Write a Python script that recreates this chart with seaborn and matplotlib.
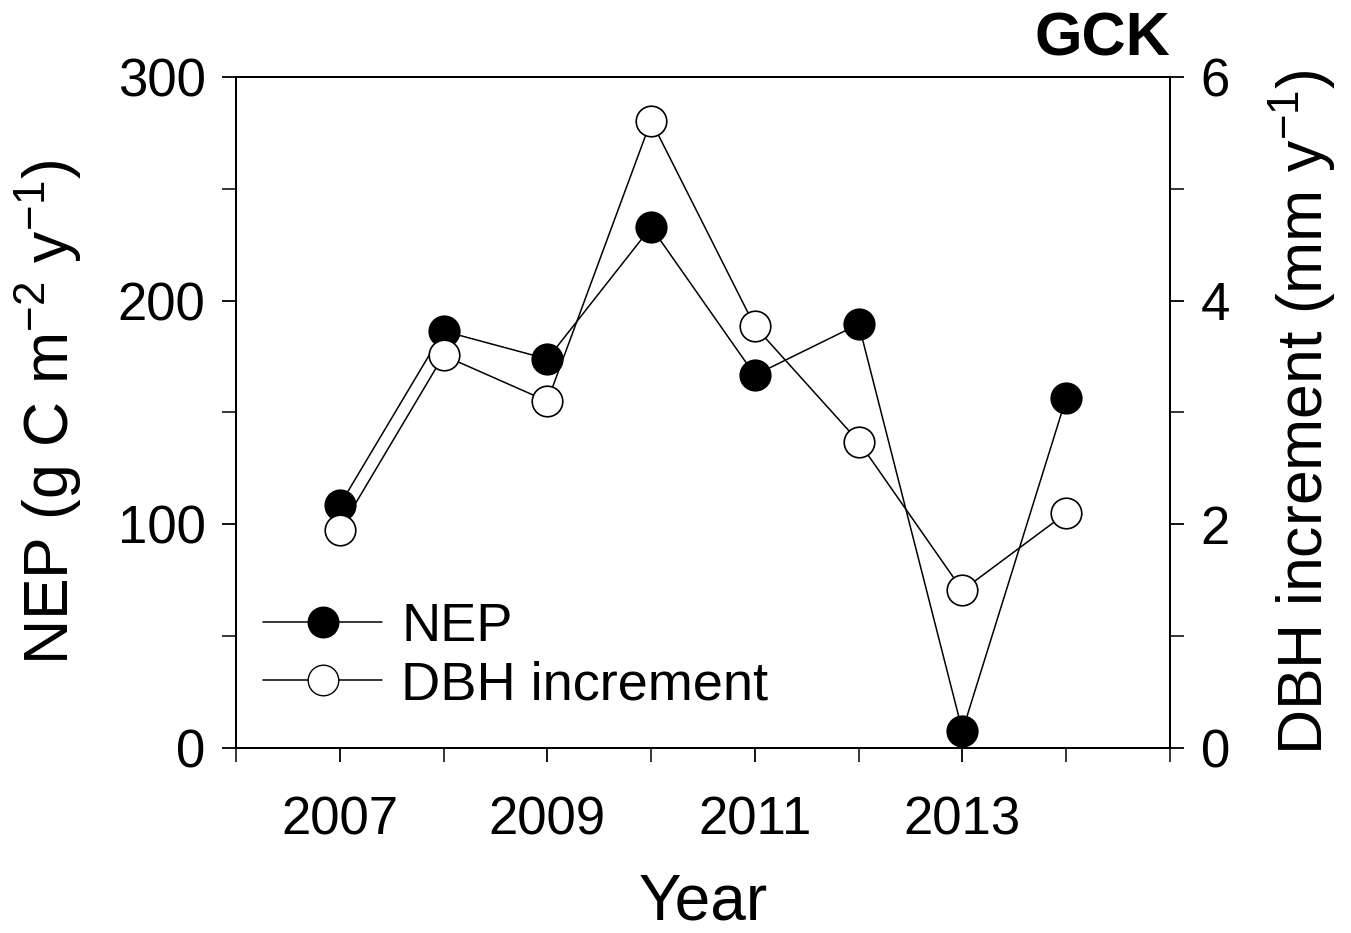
import pandas as pd
import matplotlib
matplotlib.use("Agg")
import matplotlib.pyplot as plt
from matplotlib.ticker import MultipleLocator
from matplotlib.lines import Line2D
import seaborn as sns

# data
years = [2007, 2008, 2009, 2010, 2011, 2012, 2013, 2014]
nep = [108.6, 186.4, 173.9, 232.9, 166.7, 189.5, 7.6, 156.5]
dbh_increment = [1.95, 3.51, 3.10, 5.61, 3.77, 2.74, 1.41, 2.10]
site = "GCK"

df = pd.DataFrame({"year": years, "nep": nep, "dbh": dbh_increment})

sns.set_theme(style="white")
plt.rcParams["font.family"] = ["Liberation Sans", "DejaVu Sans"]
plt.rcParams["mathtext.fontset"] = "custom"
plt.rcParams["mathtext.rm"] = "Liberation Sans"
plt.rcParams["text.color"] = "black"
plt.rcParams["axes.labelcolor"] = "black"

fig = plt.figure(figsize=(13.51, 9.33), dpi=100)
ax = fig.add_axes([0.1747, 0.1983, 0.6913, 0.7192])
ax2 = ax.twinx()

ms = 22
sns.lineplot(data=df, x="year", y="nep", ax=ax, color="black", linewidth=1.1,
             marker="o", markersize=ms, markerfacecolor="black",
             markeredgecolor="black", markeredgewidth=1.2, zorder=3)
sns.lineplot(data=df, x="year", y="dbh", ax=ax2, color="black", linewidth=1.1,
             marker="o", markersize=ms, markerfacecolor="white",
             markeredgecolor="black", markeredgewidth=1.2, zorder=3)

ax.set_xlim(2006, 2015)
ax.set_ylim(0, 300)
ax2.set_ylim(0, 6)

ax.set_xticks([2007, 2009, 2011, 2013])
ax.xaxis.set_minor_locator(MultipleLocator(1))
ax.yaxis.set_major_locator(MultipleLocator(100))
ax.yaxis.set_minor_locator(MultipleLocator(50))
ax2.yaxis.set_major_locator(MultipleLocator(2))
ax2.yaxis.set_minor_locator(MultipleLocator(1))

for a in (ax, ax2):
    for s in a.spines.values():
        s.set_color("black")
        s.set_linewidth(1.4)
    a.tick_params(which="major", direction="out", length=10, width=1.3,
                  labelsize=38, colors="black", pad=12)
    a.tick_params(which="minor", direction="out", length=10, width=1.3)
ax.tick_params(axis="x", which="both", bottom=True, top=False)
ax.tick_params(axis="y", which="both", left=True, right=False)
ax2.tick_params(axis="y", which="both", right=True, left=False)
ax.tick_params(axis="x", pad=24)

ax.set_xlabel("Year", fontsize=46, labelpad=20)
ax.set_ylabel(r"NEP (g C m$^{-2}$ y$^{-1}$)", fontsize=45, labelpad=24)
ax2.set_ylabel(r"DBH increment (mm y$^{-1}$)", fontsize=45, labelpad=26)

ax.text(1.0, 1.012, site, transform=ax.transAxes, ha="right", va="bottom",
        fontsize=44, fontweight="bold")

handles = [
    Line2D([], [], color="black", linewidth=1.1, marker="o", markersize=ms,
           markerfacecolor="black", markeredgecolor="black"),
    Line2D([], [], color="black", linewidth=1.1, marker="o", markersize=ms,
           markerfacecolor="white", markeredgecolor="black"),
]
ax.legend(handles, ["NEP", "DBH increment"], loc="center left",
          bbox_to_anchor=(0.029, 0.137), frameon=False, fontsize=39,
          borderpad=0, borderaxespad=0,
          handlelength=2.2, handletextpad=0.35, labelspacing=0.15)

fig.savefig("out.png", dpi=100)
